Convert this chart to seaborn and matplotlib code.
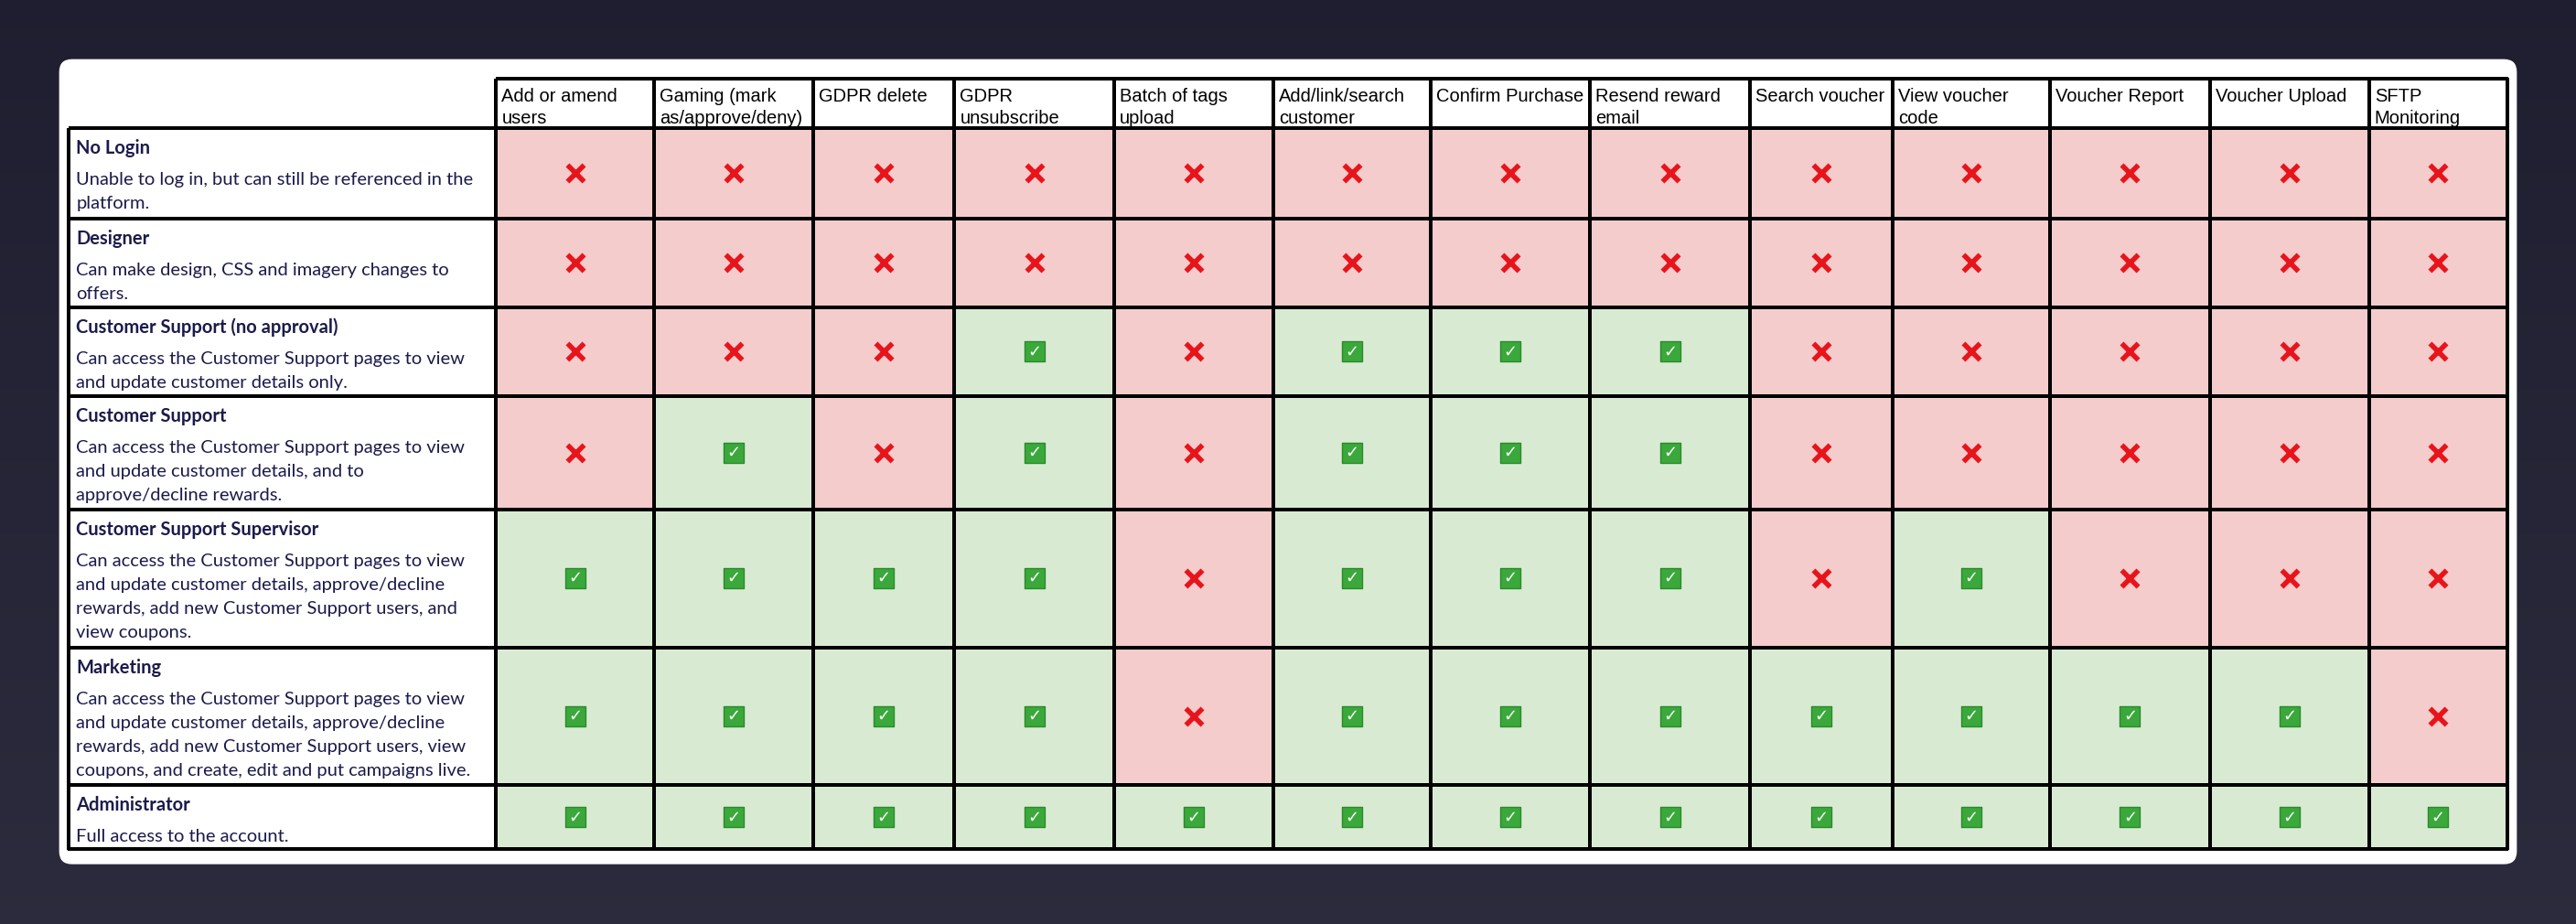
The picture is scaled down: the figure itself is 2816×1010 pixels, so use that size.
import numpy as np
import matplotlib
matplotlib.use("Agg")
import matplotlib.pyplot as plt
from matplotlib.colors import ListedColormap
from matplotlib.patches import FancyBboxPatch
import seaborn as sns

permissions = ["Add or amend\nusers", "Gaming (mark\nas/approve/deny)", "GDPR delete", "GDPR\nunsubscribe",
               "Batch of tags\nupload", "Add/link/search\ncustomer", "Confirm Purchase", "Resend reward\nemail",
               "Search voucher", "View voucher\ncode", "Voucher Report", "Voucher Upload", "SFTP\nMonitoring"]
roles = ["No Login", "Designer", "Customer Support (no approval)", "Customer Support",
         "Customer Support Supervisor", "Marketing", "Administrator"]
descriptions = [
    "Unable to log in, but can still be referenced in the\nplatform.",
    "Can make design, CSS and imagery changes to\noffers.",
    "Can access the Customer Support pages to view\nand update customer details only.",
    "Can access the Customer Support pages to view\nand update customer details, and to\napprove/decline rewards.",
    "Can access the Customer Support pages to view\nand update customer details, approve/decline\nrewards, add new Customer Support users, and\nview coupons.",
    "Can access the Customer Support pages to view\nand update customer details, approve/decline\nrewards, add new Customer Support users, view\ncoupons, and create, edit and put campaigns live.",
    "Full access to the account.",
]
no_login = [0, 0, 0, 0, 0, 0, 0, 0, 0, 0, 0, 0, 0]
designer = [0, 0, 0, 0, 0, 0, 0, 0, 0, 0, 0, 0, 0]
cs_no_approval = [0, 0, 0, 1, 0, 1, 1, 1, 0, 0, 0, 0, 0]
cs = [0, 1, 0, 1, 0, 1, 1, 1, 0, 0, 0, 0, 0]
cs_supervisor = [1, 1, 1, 1, 0, 1, 1, 1, 0, 1, 0, 0, 0]
marketing = [1, 1, 1, 1, 0, 1, 1, 1, 1, 1, 1, 1, 0]
administrator = [1, 1, 1, 1, 1, 1, 1, 1, 1, 1, 1, 1, 1]
access = np.array([no_login, designer, cs_no_approval, cs, cs_supervisor, marketing, administrator])

sns.set_theme(style="white")
plt.rcParams['font.family'] = ['Lato', 'DejaVu Sans']

S = 2816 / 1568
col_edges = np.array([302, 398, 495, 581, 678, 775, 871, 968, 1065, 1152, 1248, 1345, 1442, 1526]) * S
row_edges = np.array([78, 133, 187, 241, 310, 394, 478, 517]) * S
label_left, header_top = 42 * S, 48 * S

fig = plt.figure(figsize=(28.16, 10.10), dpi=100)
ax = fig.add_axes([0, 0, 1, 1])
ax.set_xlim(0, 2816); ax.set_ylim(1010, 0); ax.axis("off")

ax.imshow(np.linspace(0, 1, 256).reshape(-1, 1), extent=[0, 2816, 1010, 0], cmap=ListedColormap(
    [np.array([0.12, 0.12, 0.19]) * (1 - t) + np.array([0.17, 0.17, 0.24]) * t for t in np.linspace(0, 1, 64)]),
    aspect="auto", zorder=0)
ax.add_patch(FancyBboxPatch((36 * S, 36 * S), (1532 - 36) * S, (526 - 36) * S,
                            boxstyle="round,pad=0,rounding_size=14", fc="white", ec="none", zorder=1))

LW = 1.7
ax.pcolormesh(col_edges, row_edges, access, cmap=ListedColormap(["#f4cccc", "#d9ead3"]),
              vmin=0, vmax=1, edgecolor="black", linewidth=LW, zorder=2)
ax.pcolormesh(col_edges, [header_top, row_edges[0]], np.zeros((1, len(permissions))),
              cmap=ListedColormap(["white"]), edgecolor="black", linewidth=LW, zorder=2)
ax.pcolormesh([label_left, col_edges[0]], row_edges, np.zeros((len(roles), 1)),
              cmap=ListedColormap(["white"]), edgecolor="black", linewidth=LW, zorder=2)

for j, p in enumerate(permissions):
    ax.text(col_edges[j] + 6, header_top + 10, p, ha="left", va="top", fontsize=14.5,
            family=["Liberation Sans", "DejaVu Sans"], color="black", linespacing=1.3, zorder=3)

for i, (r, d) in enumerate(zip(roles, descriptions)):
    ax.text(label_left + 8, row_edges[i] + 12, r, ha="left", va="top", fontsize=14.5,
            fontweight="bold", color="#1b1b4b", zorder=3)
    ax.text(label_left + 8, row_edges[i] + 48, d, ha="left", va="top", fontsize=14.5,
            color="#1b1b4b", linespacing=1.65, zorder=3)

cx = (col_edges[:-1] + col_edges[1:]) / 2
cy = (row_edges[:-1] + row_edges[1:]) / 2
X, Y = np.meshgrid(cx, cy)
yes = access == 1
ax.scatter(X[~yes], Y[~yes], marker="x", s=170, c="#e8141b", linewidths=4, zorder=4)
ax.scatter(X[yes], Y[yes], marker="s", s=260, c="#3aa83a", edgecolors="#2b8a2b", linewidths=1, zorder=4)
for x, y in zip(X[yes], Y[yes]):
    ax.text(x, y, "\u2713", ha="center", va="center", fontsize=13, fontweight="bold",
            color="white", family="DejaVu Sans", zorder=5)

fig.savefig("out.png", dpi=100)
